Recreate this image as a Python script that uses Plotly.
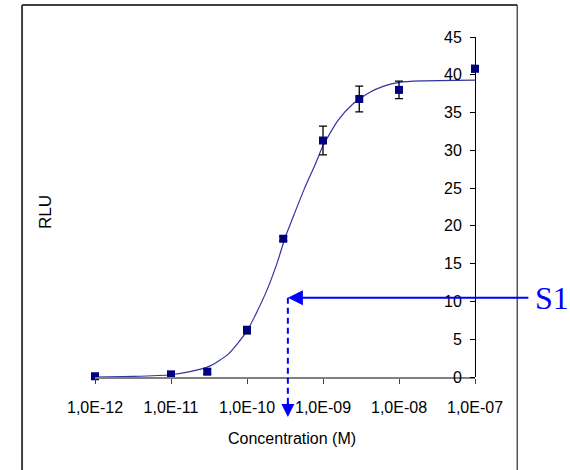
import math
import plotly.graph_objects as go

# ---- data ----
conc = [1e-12, 1e-11, 3e-11, 1e-10, 3e-10, 1e-9, 3e-9, 1e-8, 1e-7]
rlu = [0.1, 0.35, 0.7, 6.2, 18.3, 31.3, 36.8, 38.0, 40.8]
rlu_err = [0.1, 0.2, 0.3, 0.5, 0.3, 1.9, 1.7, 1.15, 0.45]

fit_log_conc = [-12.0, -11.5, -11.0, -10.75, -10.5, -10.25, -10.0, -9.75, -9.6, -9.5,
                -9.4, -9.25, -9.1, -9.0, -8.8, -8.6, -8.4, -8.2, -8.0, -7.7, -7.0]
fit_rlu = [0.0, 0.08, 0.3, 0.7, 1.4, 3.0, 6.1, 11.2, 15.2, 18.4,
           21.0, 24.8, 28.2, 30.6, 34.0, 36.2, 37.6, 38.5, 39.0, 39.2, 39.3]
fit_conc = [10 ** v for v in fit_log_conc]

tick_vals = [1e-12, 1e-11, 1e-10, 1e-9, 1e-8, 1e-7]
tick_text = ["1,0E-12", "1,0E-11", "1,0E-10", "1,0E-09", "1,0E-08", "1,0E-07"]
y_ticks = [0, 5, 10, 15, 20, 25, 30, 35, 40, 45]

s1_label = "S1"
s1_rlu = 10.5
s1_conc = 3.45e-10

FONT = "Liberation Sans, Arial, sans-serif"
BLUE = "#0000FF"
Y_MAX = 45

fig = go.Figure()
fig.add_trace(go.Scatter(
    x=fit_conc, y=fit_rlu, mode="lines",
    line=dict(color="#3333A0", width=1.2, shape="spline", smoothing=0.6),
    hoverinfo="skip", showlegend=False,
))
fig.add_trace(go.Scatter(
    x=conc, y=rlu, mode="markers",
    marker=dict(symbol="square", size=8, color="#000080"),
    error_y=dict(type="data", array=rlu_err, visible=True, color="black",
                 thickness=1.3, width=4),
    cliponaxis=False, showlegend=False,
))

fig.update_layout(
    width=570, height=470,
    margin=dict(l=95, r=95, t=37, b=93),
    paper_bgcolor="white", plot_bgcolor="white",
    font=dict(family=FONT, size=16, color="black"),
    xaxis=dict(
        type="log", range=[-12, -7],
        tickvals=tick_vals, ticktext=tick_text,
        showgrid=False, zeroline=False,
        showline=True, linecolor="#808080", linewidth=2,
        ticks="outside", ticklen=5, tickcolor="#404040", tickwidth=1,
        ticklabelstandoff=10,
        tickfont=dict(family=FONT, size=16, color="black"),
    ),
    yaxis=dict(
        range=[0, Y_MAX], tickvals=y_ticks,
        anchor="free", position=1.0, side="left",
        ticks="outside", ticklen=5, tickcolor="black", tickwidth=1,
        ticklabelstandoff=5,
        showgrid=False, zeroline=False,
        showline=True, linecolor="black", linewidth=1,
        tickfont=dict(family=FONT, size=16, color="black"),
    ),
)

# axis titles
fig.add_annotation(text="RLU", xref="paper", yref="paper", x=-0.132, y=0.485,
                   xanchor="center", yanchor="middle",
                   textangle=-90, showarrow=False,
                   font=dict(family=FONT, size=17, color="black"))
fig.add_annotation(text="Concentration (M)", xref="paper", yref="paper", x=0.518, y=-0.182,
                   xanchor="center", yanchor="middle",
                   showarrow=False, font=dict(family=FONT, size=16, color="black"))

s1_logx = math.log10(s1_conc)

# S1 horizontal arrow
fig.add_annotation(x=s1_logx, y=s1_rlu, xref="x", yref="y", text="",
                   showarrow=True, ax=242, ay=0, axref="pixel", ayref="pixel",
                   arrowhead=2, arrowsize=1.5, arrowwidth=2, arrowcolor=BLUE, standoff=0)
fig.add_annotation(text=s1_label, x=1.153, y=s1_rlu, xref="paper", yref="y",
                   xanchor="left", yanchor="middle", showarrow=False,
                   font=dict(family="Liberation Serif, Times New Roman, serif", size=32, color=BLUE))

# dashed vertical drop line to concentration axis
fig.add_shape(type="line", xref="x", yref="paper", x0=s1_conc, x1=s1_conc,
              y0=s1_rlu / Y_MAX, y1=-0.08, line=dict(color=BLUE, width=2, dash="6px,4px"))
fig.add_annotation(x=s1_logx, y=-0.118, xref="x", yref="paper", text="",
                   showarrow=True, ax=0, ay=-16, arrowhead=2, arrowsize=1.3,
                   arrowwidth=2, arrowcolor=BLUE, standoff=0)

# outer frame
fig.add_shape(type="line", xref="paper", yref="paper", x0=-0.192, x1=-0.192, y0=1.094, y1=-0.3,
              line=dict(color="#404040", width=2))
fig.add_shape(type="line", xref="paper", yref="paper", x0=-0.192, x1=1.111, y0=1.094, y1=1.094,
              line=dict(color="#404040", width=2))
fig.add_shape(type="line", xref="paper", yref="paper", x0=1.111, x1=1.111, y0=1.094, y1=-0.3,
              line=dict(color="black", width=1))

fig.write_html("out.html", config={"displayModeBar": False},
               post_script="document.body.style.margin='0';")
